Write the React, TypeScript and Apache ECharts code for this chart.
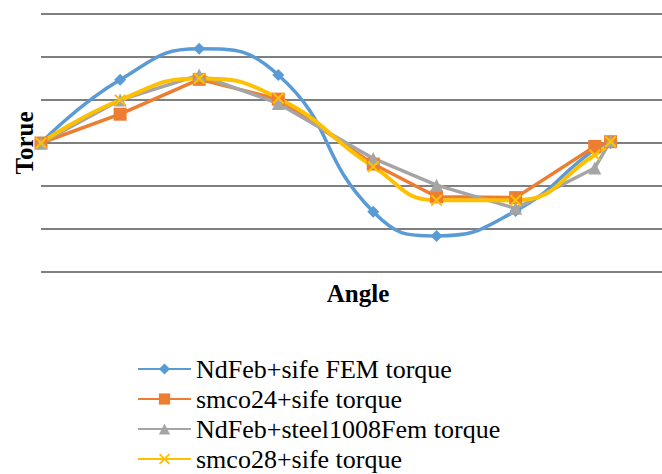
import React, { useEffect, useRef } from "react";
import * as echarts from "echarts";

const angles = [0, 10, 20, 30, 42, 50, 60, 70, 72];
const ndfebSife = [0, 1.47, 2.19, 1.58, -1.6, -2.16, -1.58, -0.15, 0];
const smco24 = [0, 0.67, 1.48, 1.02, -0.49, -1.25, -1.27, -0.08, 0.03];
const ndfebSteel = [0, 1.0, 1.58, 0.92, -0.36, -0.98, -1.52, -0.58, 0.05];
const smco28 = [0, 1.0, 1.5, 1.04, -0.55, -1.33, -1.33, -0.28, 0.03];

const seriesNames = [
  "NdFeb+sife FEM torque",
  "smco24+sife torque",
  "NdFeb+steel1008Fem torque",
  "smco28+sife torque",
];

const xMark =
  "path://M0,1.2L1.2,0L5,3.8L8.8,0L10,1.2L6.2,5L10,8.8L8.8,10L5,6.2L1.2,10L0,8.8L3.8,5Z";

export default function App() {
  const ref = useRef<HTMLDivElement>(null);
  useEffect(() => {
    if (!ref.current) return;
    const chart = echarts.init(ref.current, null, { renderer: "svg" });
    const pair = (ys: number[]) => angles.map((a, i) => [a, ys[i]]);
    const font = "Liberation Serif";
    chart.setOption({
      animation: false,
      backgroundColor: "#ffffff",
      grid: { left: 41, right: 0, top: 14, bottom: 202 },
      xAxis: {
        type: "value",
        min: 0,
        max: 78.5,
        axisLabel: { show: false },
        axisLine: { show: false },
        axisTick: { show: false },
        splitLine: { show: false },
      },
      yAxis: {
        type: "value",
        min: -3,
        max: 3,
        interval: 1,
        axisLabel: { show: false },
        axisLine: { show: false },
        axisTick: { show: false },
        splitLine: { show: true, lineStyle: { color: "#555555", width: 1.5 } },
      },
      legend: {
        orient: "vertical",
        left: 137,
        top: 356,
        height: 118,
        padding: 0,
        itemWidth: 53,
        itemHeight: 14,
        itemGap: 4,
        textStyle: { fontFamily: font, fontSize: 26, color: "#000", lineHeight: 26 },
        data: seriesNames,
      },
      graphic: [
        {
          type: "text",
          x: 24,
          y: 143,
          rotation: Math.PI / 2,
          style: {
            text: "Torue",
            fontFamily: font,
            fontSize: 25,
            fontWeight: "bold",
            fill: "#000",
            align: "center",
            verticalAlign: "middle",
          },
        },
        {
          type: "text",
          x: 358,
          y: 293,
          style: {
            text: "Angle",
            fontFamily: font,
            fontSize: 25,
            fontWeight: "bold",
            fill: "#000",
            align: "center",
            verticalAlign: "middle",
          },
        },
      ],
      series: [
        {
          name: seriesNames[0],
          type: "line",
          smooth: 0.5,
          data: pair(ndfebSife),
          symbol: "diamond",
          symbolSize: 12,
          color: "#5B9BD5",
          lineStyle: { width: 3.5, color: "#5B9BD5" },
          itemStyle: { color: "#5B9BD5" },
        },
        {
          name: seriesNames[1],
          type: "line",
          smooth: false,
          data: pair(smco24),
          symbol: "rect",
          symbolSize: 13,
          color: "#ED7D31",
          lineStyle: { width: 3.5, color: "#ED7D31" },
          itemStyle: { color: "#ED7D31" },
        },
        {
          name: seriesNames[2],
          type: "line",
          smooth: false,
          data: pair(ndfebSteel),
          symbol: "triangle",
          symbolSize: 13,
          color: "#A5A5A5",
          lineStyle: { width: 3.5, color: "#A5A5A5" },
          itemStyle: { color: "#A5A5A5" },
        },
        {
          name: seriesNames[3],
          type: "line",
          smooth: 0.5,
          data: pair(smco28),
          symbol: xMark,
          symbolSize: 12,
          color: "#FFC000",
          lineStyle: { width: 4, color: "#FFC000" },
          itemStyle: { color: "#FFC000" },
        },
      ],
    });
    return () => chart.dispose();
  }, []);
  return (
    <div
      ref={ref}
      style={{ position: "fixed", left: 0, top: 0, width: 662, height: 474 }}
    />
  );
}
